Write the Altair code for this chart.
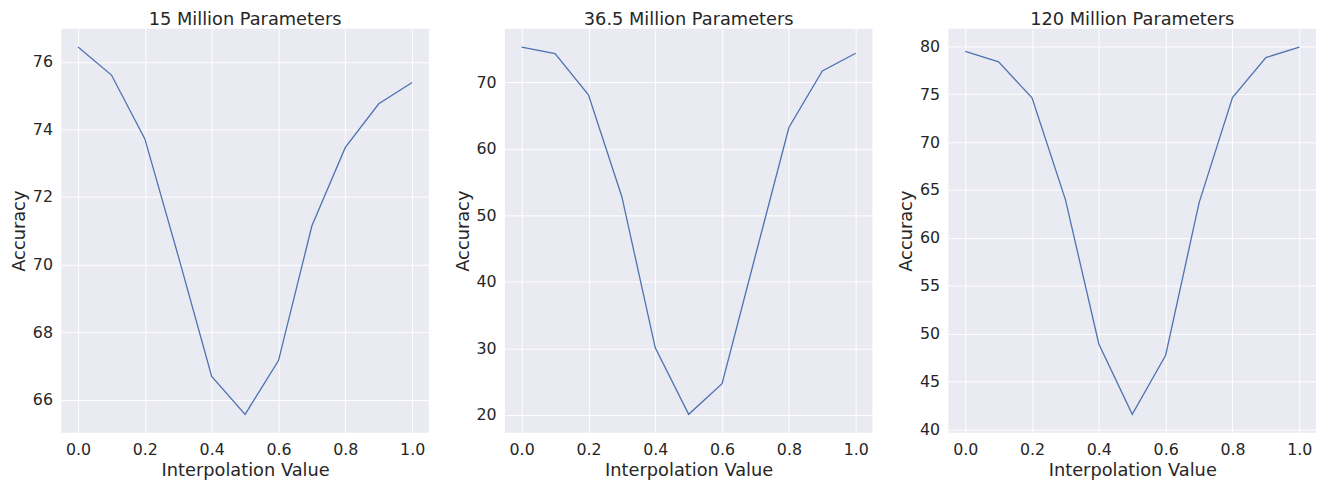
import altair as alt
import pandas as pd

interp = [0.0, 0.1, 0.2, 0.3, 0.4, 0.5, 0.6, 0.7, 0.8, 0.9, 1.0]
acc_15m = [76.44, 75.61, 73.72, 70.25, 66.69, 65.57, 67.16, 71.15, 73.47, 74.76, 75.39]
acc_36m = [75.29, 74.30, 68.10, 52.80, 30.10, 20.10, 24.70, 44.00, 63.20, 71.70, 74.35]
acc_120m = [79.48, 78.38, 74.62, 64.00, 48.93, 41.58, 47.75, 63.66, 74.66, 78.83, 79.93]

titles = ["15 Million Parameters", "36.5 Million Parameters", "120 Million Parameters"]
series = [acc_15m, acc_36m, acc_120m]
y_ticks = [[66, 68, 70, 72, 74, 76], [20, 30, 40, 50, 60, 70], [40, 45, 50, 55, 60, 65, 70, 75, 80]]
x_ticks = [0.0, 0.2, 0.4, 0.6, 0.8, 1.0]

TEXT = "#262626"
FONT = "DejaVu Sans"


def panel(title, values, yt):
    df = pd.DataFrame({"x": interp, "y": values})
    lo, hi = min(values), max(values)
    m = (hi - lo) * 0.05
    return (
        alt.Chart(df, title=alt.TitleParams(title, fontSize=18, font=FONT, color=TEXT,
                                            fontWeight="normal", offset=0))
        .mark_line(color="#4C72B0", strokeWidth=1.3)
        .encode(
            x=alt.X("x:Q", title="Interpolation Value",
                    scale=alt.Scale(domain=[-0.05, 1.05], nice=False, zero=False),
                    axis=alt.Axis(values=x_ticks, format=".1f")),
            y=alt.Y("y:Q", title="Accuracy",
                    scale=alt.Scale(domain=[lo - m, hi + m], nice=False, zero=False),
                    axis=alt.Axis(values=yt, format="d")),
        )
        .properties(width=372, height=409)
    )


chart = (
    alt.hconcat(*[panel(t, s, yt) for t, s, yt in zip(titles, series, y_ticks)], spacing=25)
    .properties(padding={"left": 2, "top": 0, "right": 0, "bottom": 0}, background="white")
    .configure_view(fill="#EAEAF2", stroke=None)
    .configure_axis(
        grid=True, gridColor="white", gridWidth=1, domain=False, ticks=False,
        labelFont=FONT, labelFontSize=16, labelColor=TEXT, labelPadding=9,
        titleFont=FONT, titleFontSize=18, titleColor=TEXT, titleFontWeight="normal",
        titlePadding=4,
    )
)

chart.save("out.html", embed_options={"renderer": "svg", "actions": False})
